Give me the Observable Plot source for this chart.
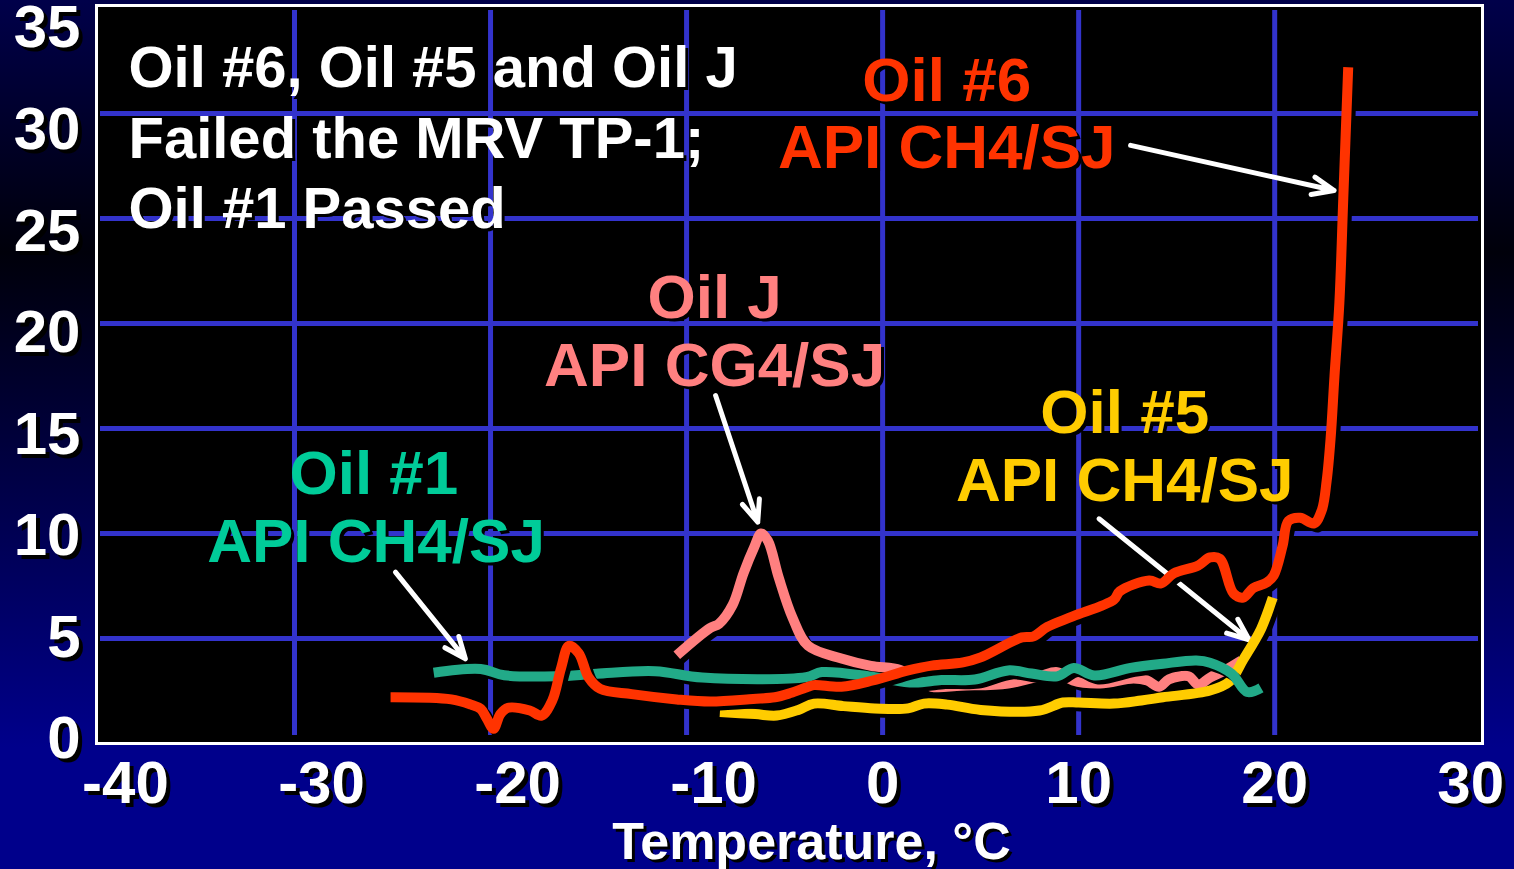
<!DOCTYPE html>
<html><head><meta charset="utf-8">
<script src="https://cdn.jsdelivr.net/npm/d3@7"></script>
<script src="https://cdn.jsdelivr.net/npm/@observablehq/plot@0.6"></script>
<style>
html,body{margin:0;padding:0;width:1514px;height:869px;overflow:hidden;
background:linear-gradient(to bottom,#00004a 0%,#00000a 29%,#00008b 86%,#00008b 100%);}
#chart svg{display:block;}
</style></head><body><div id="chart"></div>
<script>
// ---- data: [temperature °C, value] ----
const oil6 = [[-25.1,2.2],[-22,2.1],[-21,1.85],[-20.5,1.65],[-20.2,1.2],[-19.85,0.7],[-19.5,1.4],[-19.1,1.7],[-18.0,1.57],[-17.4,1.33],[-16.85,2.05],[-16.4,3.6],[-16.0,4.65],[-15.5,4.3],[-15.0,3.15],[-14.4,2.6],[-12.8,2.35],[-10.5,2.1],[-8.8,2.0],[-6.6,2.12],[-5.5,2.2],[-4.7,2.4],[-3.8,2.7],[-3.5,2.78],[-2.1,2.7],[-0.5,3.0],[1.3,3.48],[2.5,3.71],[4.1,3.86],[5.0,4.1],[7.1,5.05],[7.7,5.1],[8.4,5.55],[9.7,6.05],[11.8,6.85],[12.1,7.25],[13.6,7.76],[14.2,7.62],[14.85,8.1],[16.1,8.48],[16.7,8.86],[17.2,8.8],[17.9,7.14],[18.4,6.95],[18.9,7.4],[19.6,7.67],[19.95,8.0],[20.4,9.4],[20.7,10.6],[21.3,10.75],[22.0,10.48],[22.4,11.1],[22.65,12.5],[22.85,14.5],[23.05,17.5],[23.3,21],[23.5,26],[23.75,32.2]];
const oilJ = [[-10.5,4.2],[-8.8,5.5],[-8.35,5.7],[-7.65,6.6],[-7.1,8.1],[-6.55,9.35],[-6.2,10.0],[-5.85,9.65],[-5.3,7.9],[-4.6,6.0],[-3.8,4.65],[-2.1,4.05],[-0.6,3.7],[0.9,3.5],[1.9,3.0],[2.5,2.7],[4,2.75],[6.4,2.86],[8.0,3.2],[8.9,3.4],[9.7,3.0],[11.1,2.86],[12.8,3.1],[13.5,3.0],[14.1,2.7],[14.6,3.05],[15.6,3.2],[16.1,2.8],[16.7,3.14],[17.4,3.45],[18.3,3.95]];
const oil1 = [[-22.9,3.37],[-20.5,3.55],[-19.3,3.25],[-16.6,3.2],[-14.6,3.32],[-11.6,3.44],[-9.2,3.14],[-3.9,3.16],[-3.1,3.4],[-0.4,3.16],[1.6,2.9],[3.0,3.02],[4.7,3.05],[6.4,3.48],[7.6,3.33],[8.9,3.2],[9.75,3.6],[10.8,3.24],[12.65,3.6],[14.3,3.8],[16.0,3.95],[16.7,3.85],[17.8,3.33],[18.6,2.45],[19.3,2.65]];
const oil5 = [[-8.3,1.5],[-6.5,1.4],[-5.4,1.33],[-4.3,1.6],[-3.5,1.9],[-2,1.78],[-0.4,1.67],[1.3,1.67],[2.1,1.9],[3.3,1.85],[5.0,1.6],[8.0,1.57],[9.2,1.95],[10,1.95],[11.8,1.9],[13.2,2.05],[14.3,2.2],[16.7,2.52],[17.7,2.95],[18.4,4.0],[19.3,5.45],[19.9,6.95]];

const xTicks = [-40,-30,-20,-10,0,10,20,30];
const yTicks = [0,5,10,15,20,25,30,35];
const xGrid = [-30,-20,-10,0,10,20];
const yGrid = [5,10,15,20,25,30];

const noteLines = ["Oil #6, Oil #5 and Oil J","Failed the MRV TP-1;","Oil #1 Passed"];
const noteX = -38.47;
const noteY = [31.25,27.9,24.55];

const labelText = ["Oil #6","API CH4/SJ","Oil J","API CG4/SJ","Oil #1","API CH4/SJ","Oil #5","API CH4/SJ"];
const labelX    = [3.27,3.27,-8.57,-8.57,-25.95,-25.84,12.35,12.35];
const labelY    = [30.57,27.38,20.24,17.0,11.9,8.62,14.8,11.57];
const labelColor= ["#ff3300","#ff3300","#ff8080","#ff8080","#00cc99","#00cc99","#ffcc00","#ffcc00"];

// arrows: [x1,y1,x2,y2]
const arrows = [[12.65,28.48,23.03,26.33],[-8.52,16.57,-6.37,10.54],[-24.85,8.16,-21.28,4.03],[11.04,10.7,18.69,4.94]];

const series = [
  {data: oilJ, color: "#ff8080"},
  {data: oil5, color: "#ffcc00"},
  {data: oil1, color: "#22aa88"},
  {data: oil6, color: "#ff3300"}
];

const font = "'Liberation Sans', Arial, sans-serif";
// y tick labels in the original sit on a slightly compressed ladder
const labelLadder = v => 0.21 + 0.967 * v;

const lineMarks = [];
for (const s of series) {
  lineMarks.push(Plot.line(s.data, {x: d => d[0], y: d => d[1], stroke: "black", strokeWidth: 10, dx: 4, dy: 4, curve: "catmull-rom", strokeLinecap: "butt", strokeLinejoin: "round"}));
  lineMarks.push(Plot.line(s.data, {x: d => d[0], y: d => d[1], stroke: s.color, strokeWidth: 10, curve: "catmull-rom", strokeLinecap: "butt", strokeLinejoin: "round"}));
}

const textOpts = {fontFamily: font, fontWeight: "bold"};

const chart = Plot.plot({
  width: 1514, height: 869,
  marginLeft: 96, marginRight: 32, marginTop: 5, marginBottom: 126,
  style: {background: "transparent", fontFamily: font, overflow: "visible"},
  x: {domain: [-40.1, 30.6], axis: null},
  y: {domain: [0, 35.14], axis: null},
  marks: [
    Plot.frame({fill: "black"}),
    Plot.ruleX(xGrid, {x: d => d, stroke: "#3333cc", strokeWidth: 5, insetTop: 5, insetBottom: 8}),
    Plot.ruleY(yGrid, {y: d => d, stroke: "#3333cc", strokeWidth: 5, insetLeft: 4, insetRight: 4}),
    // main note
    Plot.text(noteLines, {...textOpts, x: noteX, y: (d, i) => noteY[i], text: d => d, textAnchor: "start", lineAnchor: "bottom", fontSize: 58, fill: "black", dx: 3, dy: 3}),
    Plot.text(noteLines, {...textOpts, x: noteX, y: (d, i) => noteY[i], text: d => d, textAnchor: "start", lineAnchor: "bottom", fontSize: 58, fill: "white"}),
    // series labels
    Plot.text(labelText, {...textOpts, x: (d, i) => labelX[i], y: (d, i) => labelY[i], text: d => d, lineAnchor: "bottom", fontSize: 62, fill: "black", dx: 3, dy: 3}),
    Plot.text(labelText, {...textOpts, x: (d, i) => labelX[i], y: (d, i) => labelY[i], text: d => d, lineAnchor: "bottom", fontSize: 62, fill: (d, i) => labelColor[i]}),
    // arrows
    Plot.arrow(arrows, {x1: d => d[0], y1: d => d[1], x2: d => d[2], y2: d => d[3], stroke: "white", strokeWidth: 5, headLength: 7, headAngle: 45}),
    ...lineMarks,
    Plot.frame({stroke: "white", strokeWidth: 3}),
    // y tick labels
    Plot.text(yTicks, {...textOpts, y: d => labelLadder(d), text: d => String(d), frameAnchor: "left", textAnchor: "end", lineAnchor: "middle", dx: -16 + 4, dy: 4, fontSize: 60, fill: "black"}),
    Plot.text(yTicks, {...textOpts, y: d => labelLadder(d), text: d => String(d), frameAnchor: "left", textAnchor: "end", lineAnchor: "middle", dx: -16, fontSize: 60, fill: "white"}),
    // x tick labels (negative labels sit a bit right of their ticks in the original)
    Plot.text(xTicks.filter(d => d < 0), {...textOpts, x: d => d, text: d => String(d), frameAnchor: "bottom", lineAnchor: "top", dy: 17 + 4, dx: 27 + 4, fontSize: 60, fill: "black"}),
    Plot.text(xTicks.filter(d => d < 0), {...textOpts, x: d => d, text: d => String(d), frameAnchor: "bottom", lineAnchor: "top", dy: 17, dx: 27, fontSize: 60, fill: "white"}),
    Plot.text(xTicks.filter(d => d >= 0), {...textOpts, x: d => d, text: d => String(d), frameAnchor: "bottom", lineAnchor: "top", dy: 17 + 4, dx: 4, fontSize: 60, fill: "black"}),
    Plot.text(xTicks.filter(d => d >= 0), {...textOpts, x: d => d, text: d => String(d), frameAnchor: "bottom", lineAnchor: "top", dy: 17, fontSize: 60, fill: "white"}),
    // axis title
    Plot.text(["Temperature, °C"], {...textOpts, text: d => d, frameAnchor: "bottom", lineAnchor: "top", dx: 22 + 3, dy: 79 + 3, fontSize: 52, fill: "black"}),
    Plot.text(["Temperature, °C"], {...textOpts, text: d => d, frameAnchor: "bottom", lineAnchor: "top", dx: 22, dy: 79, fontSize: 52, fill: "white"})
  ]
});
document.getElementById("chart").appendChild(chart);
</script></body></html>
